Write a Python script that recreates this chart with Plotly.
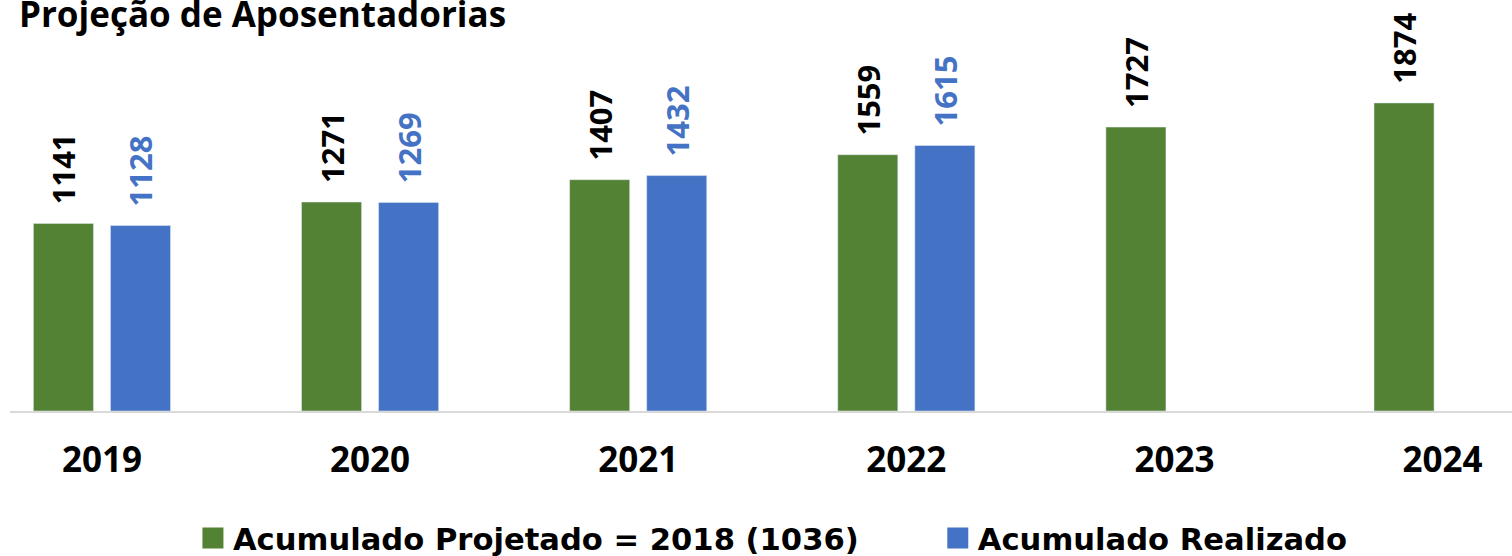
import plotly.graph_objects as go

years = ["2019", "2020", "2021", "2022", "2023", "2024"]
projetado = [1141, 1271, 1407, 1559, 1727, 1874]
realizado = [1128, 1269, 1432, 1615, None, None]

name_proj = "Acumulado Projetado = 2018 (1036)"
name_real = "Acumulado Realizado"
title = "Projeção de Aposentadorias"

GREEN = "#548235"
BLUE = "#4472C4"
FONT = "Open Sans"
LEG_FONT = "DejaVu Sans"

BAR_W = 0.224
HALF_SEP = 0.1437
PAD = "\u00a0\u00a0"

fig = go.Figure()
fig.add_trace(go.Bar(
    x=years, y=projetado, name=name_proj, marker_color=GREEN,
    width=BAR_W, offset=-HALF_SEP - BAR_W / 2,
    text=[PAD + str(v) for v in projetado], textposition="outside",
    textangle=-90, constraintext="none", cliponaxis=False,
    textfont=dict(family=FONT, size=31, color="black", weight=700),
    showlegend=False, hoverinfo="x+y",
))
fig.add_trace(go.Bar(
    x=years, y=realizado, name=name_real, marker_color=BLUE,
    width=BAR_W, offset=HALF_SEP - BAR_W / 2,
    text=[(PAD + str(v)) if v is not None else "" for v in realizado],
    textposition="outside",
    textangle=-90, constraintext="none", cliponaxis=False,
    textfont=dict(family=FONT, size=31, color=BLUE, weight=700),
    showlegend=False, hoverinfo="x+y",
))
# legend entries (one legend box each, placed like the reference)
for nm, col, lg in [(name_proj, GREEN, "legend"), (name_real, BLUE, "legend2")]:
    fig.add_trace(go.Scatter(
        x=[None], y=[None], mode="markers", name=nm, legend=lg,
        marker=dict(symbol="square", size=16, color=col,
                    line=dict(width=5, color=col)),
    ))

fig.add_annotation(
    text=title, xref="paper", yref="paper", x=0.0047, y=1,
    xanchor="left", yanchor="top", yshift=12, showarrow=False,
    font=dict(family=FONT, size=35, color="black", weight=700),
)

leg_common = dict(
    orientation="h", y=-0.309, yanchor="middle", xanchor="left",
    font=dict(family=LEG_FONT, size=30.6, color="black", weight=700),
    bgcolor="rgba(0,0,0,0)", borderwidth=0,
)

fig.update_layout(
    width=1512, height=556,
    margin=dict(l=10, r=0, t=0, b=145, autoexpand=False),
    paper_bgcolor="white", plot_bgcolor="white",
    barmode="group",
    showlegend=True,
    legend=dict(x=0.1218, **leg_common),
    legend2=dict(x=0.6177, **leg_common),
    xaxis=dict(
        type="category", range=[-0.343, 5.259],
        showline=True, linecolor="#D9D9D9", linewidth=2,
        showgrid=False, zeroline=False, ticks="",
        ticklabelstandoff=17,
        tickfont=dict(family=FONT, size=35, color="black", weight=700),
        fixedrange=True,
    ),
    yaxis=dict(
        range=[0, 2500], visible=False, showgrid=False, zeroline=False,
        fixedrange=True,
    ),
)

fig.write_html(
    "out.html",
    config={"displayModeBar": False},
    post_script="document.body.style.margin='0';document.body.style.overflow='hidden';",
)
